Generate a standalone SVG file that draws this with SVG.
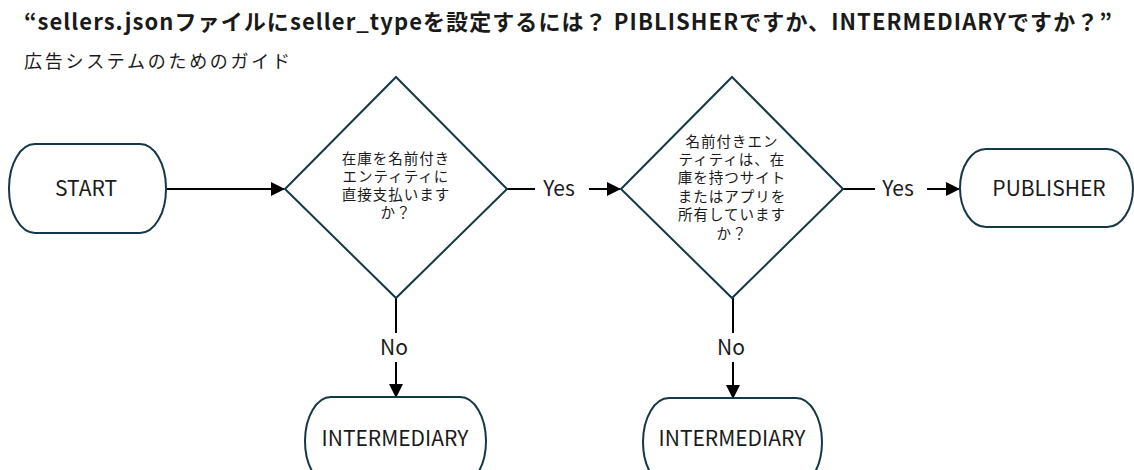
<svg xmlns="http://www.w3.org/2000/svg" width="1134" height="470" viewBox="0 0 1134 470">
<defs>
<style>
.t{font-family:"Noto Sans CJK JP","Noto Sans",sans-serif;fill:#1a1a1a}
.shape{fill:#fff;stroke:#143845;stroke-width:2}
.conn{stroke:#000;stroke-width:2;fill:none}
.lbl{font-family:"Noto Sans CJK JP","Noto Sans",sans-serif;font-size:21px;fill:#1a1a1a;text-anchor:middle}
.q{font-family:"Noto Sans CJK JP","Noto Sans",sans-serif;font-size:14.5px;letter-spacing:1px;fill:#1a1a1a;text-anchor:middle}
</style>
<marker id="ahb" markerWidth="14" markerHeight="14" refX="13" refY="7" orient="auto" markerUnits="userSpaceOnUse" viewBox="0 0 14 14">
<path d="M0,0 L14,7 L0,14 z" fill="#000"/>
</marker>
</defs>
<rect width="1134" height="470" fill="#fff"/>
<text class="t" x="24" y="30" font-size="22" font-weight="bold" textLength="1088" lengthAdjust="spacing">“sellers.jsonファイルにseller_typeを設定するには？ PIBLISHERですか、INTERMEDIARYですか？”</text>
<text class="t" x="24" y="68" font-size="18" textLength="266" lengthAdjust="spacing">広告システムのためのガイド</text>

<g id="connectors">
<line class="conn" x1="166" y1="189" x2="284" y2="189" marker-end="url(#ahb)"/>
<line class="conn" x1="506" y1="189" x2="535" y2="189"/>
<line class="conn" x1="589" y1="189" x2="620" y2="189" marker-end="url(#ahb)"/>
<line class="conn" x1="843" y1="189" x2="875" y2="189"/>
<line class="conn" x1="927" y1="189" x2="959" y2="189" marker-end="url(#ahb)"/>
<line class="conn" x1="396" y1="298" x2="396" y2="333"/>
<line class="conn" x1="396" y1="362" x2="396" y2="397" marker-end="url(#ahb)"/>
<line class="conn" x1="733" y1="298" x2="733" y2="333"/>
<line class="conn" x1="733" y1="362" x2="733" y2="398" marker-end="url(#ahb)"/>
<text class="lbl" x="559" y="196">Yes</text>
<text class="lbl" x="898" y="196">Yes</text>
<text class="lbl" x="394" y="355">No</text>
<text class="lbl" x="731" y="355">No</text>
</g>

<g id="start">
<rect class="shape" x="9" y="144" width="157" height="89" rx="26" ry="44"/>
<text class="lbl" x="86" y="196">START</text>
</g>

<g id="decision1">
<polygon class="shape" points="396,77 507,189 396,298 285,189"/>
<text class="q"><tspan x="396" y="164">在庫を名前付き</tspan><tspan x="396" y="182">エンティティに</tspan><tspan x="396" y="200">直接支払います</tspan><tspan x="396" y="218">か？</tspan></text>
</g>

<g id="decision2">
<polygon class="shape" points="732,77 843,189 732,298 621,189"/>
<text class="q"><tspan x="732" y="147">名前付きエン</tspan><tspan x="732" y="165">ティティは、在</tspan><tspan x="732" y="183">庫を持つサイト</tspan><tspan x="732" y="202">またはアプリを</tspan><tspan x="732" y="220">所有しています</tspan><tspan x="732" y="239">か？</tspan></text>
</g>

<g id="publisher">
<rect class="shape" x="960" y="149" width="173" height="78" rx="26" ry="39"/>
<text class="lbl" x="1049" y="196">PUBLISHER</text>
</g>

<g id="intermediary1">
<rect class="shape" x="305" y="397" width="181" height="88" rx="26" ry="44"/>
<text class="lbl" x="395" y="446">INTERMEDIARY</text>
</g>

<g id="intermediary2">
<rect class="shape" x="643" y="398" width="179" height="88" rx="26" ry="44"/>
<text class="lbl" x="732" y="446">INTERMEDIARY</text>
</g>
</svg>
